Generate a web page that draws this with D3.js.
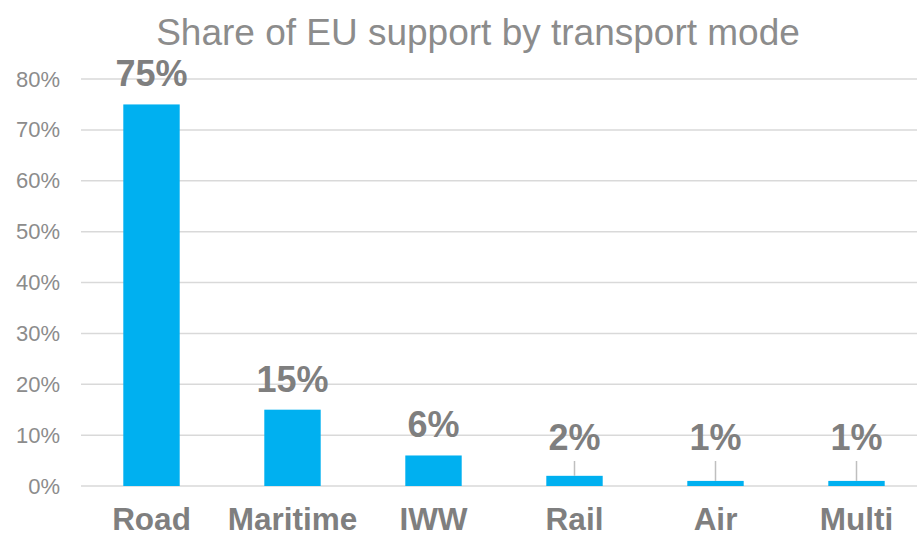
<!DOCTYPE html>
<html>
<head>
<meta charset="utf-8">
<script src="https://cdn.jsdelivr.net/npm/d3@7/dist/d3.min.js"></script>
<style>
  body { margin: 0; background: #fff; }
  text { font-family: "Liberation Sans", Arial, sans-serif; }
</style>
</head>
<body>
<div id="chart"></div>
<script>
var modes = ["Road", "Maritime", "IWW", "Rail", "Air", "Multi"];
var shares = [75, 15, 6, 2, 1, 1];
var yTicks = [0, 10, 20, 30, 40, 50, 60, 70, 80];

var svgWidth = 917;
var svgHeight = 538;

var svg = d3.select("#chart")
  .append("svg")
  .attr("width", svgWidth)
  .attr("height", svgHeight);

var xScale = d3.scaleBand()
  .domain(modes)
  .range([81, 927])
  .padding(0);

var yScale = d3.scaleLinear()
  .domain([0, 80])
  .range([486, 79]);

// gridlines
svg.append("g")
  .selectAll("line")
  .data(yTicks)
  .enter()
  .append("line")
  .attr("x1", 81)
  .attr("x2", 927)
  .attr("y1", d => yScale(d))
  .attr("y2", d => yScale(d))
  .attr("stroke", "#d9d9d9")
  .attr("stroke-width", 1.5);

// y axis labels
var leftAxis = d3.axisLeft(yScale)
  .tickValues(yTicks)
  .tickFormat(d => d + "%")
  .tickSize(0)
  .tickPadding(21);

var yAxis = svg.append("g")
  .attr("transform", "translate(81,0)")
  .call(leftAxis);
yAxis.select(".domain").remove();
yAxis.selectAll("text")
  .attr("fill", "#8c8c8c")
  .style("font-size", "22px");

// x axis labels
var bottomAxis = d3.axisBottom(xScale).tickSize(0).tickPadding(22);
var xAxis = svg.append("g")
  .attr("transform", "translate(0,486)")
  .call(bottomAxis);
xAxis.select(".domain").remove();
xAxis.selectAll("text")
  .attr("fill", "#7f7f7f")
  .style("font-size", "31.5px")
  .style("font-weight", "bold");

var barW = xScale.bandwidth() * 0.4;
var data = modes.map((m, i) => ({ mode: m, value: shares[i] }));

svg.append("g")
  .selectAll("rect")
  .data(data)
  .enter()
  .append("rect")
  .attr("x", d => xScale(d.mode) + (xScale.bandwidth() - barW) / 2)
  .attr("y", d => yScale(d.value))
  .attr("width", barW)
  .attr("height", d => yScale(0) - yScale(d.value))
  .attr("fill", "#00b0f0");

function labelY(d) {
  return Math.min(yScale(d.value) - 18, yScale(0) - 36);
}

// leader lines for lifted labels
svg.append("g")
  .selectAll("line")
  .data(data.filter(d => yScale(d.value) - 18 > yScale(0) - 36))
  .enter()
  .append("line")
  .attr("x1", d => xScale(d.mode) + xScale.bandwidth() / 2)
  .attr("x2", d => xScale(d.mode) + xScale.bandwidth() / 2)
  .attr("y1", d => labelY(d) + 11)
  .attr("y2", d => yScale(d.value))
  .attr("stroke", "#bfbfbf")
  .attr("stroke-width", 1.5);

svg.append("g")
  .selectAll("text")
  .data(data)
  .enter()
  .append("text")
  .attr("x", d => xScale(d.mode) + xScale.bandwidth() / 2)
  .attr("y", d => labelY(d))
  .attr("text-anchor", "middle")
  .attr("fill", "#7f7f7f")
  .style("font-size", "36px")
  .style("font-weight", "bold")
  .text(d => d.value + "%");

svg.append("text")
  .attr("x", 478)
  .attr("y", 45)
  .attr("text-anchor", "middle")
  .attr("fill", "#8c8c8c")
  .style("font-size", "37px")
  .text("Share of EU support by transport mode");
</script>
</body>
</html>
